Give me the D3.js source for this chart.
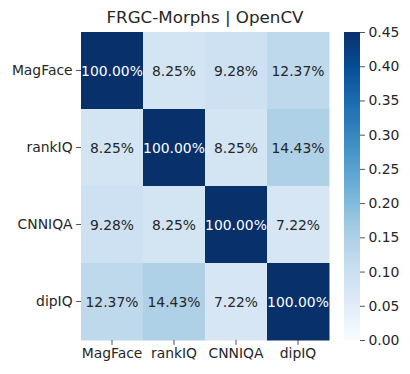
<!DOCTYPE html>
<html>
<head>
<meta charset="utf-8">
<script src="https://cdn.jsdelivr.net/npm/d3@7"></script>
<style>
  body { margin: 0; background: #fff; }
  text { font-family: "DejaVu Sans", sans-serif; fill: #262626; }
</style>
</head>
<body>
<div id="chart"></div>
<script>
// labels + matrix values
var models = ["MagFace", "rankIQ", "CNNIQA", "dipIQ"]
var values = [
  [1.0, 0.0825, 0.0928, 0.1237],
  [0.0825, 1.0, 0.0825, 0.1443],
  [0.0928, 0.0825, 1.0, 0.0722],
  [0.1237, 0.1443, 0.0722, 1.0]
]
var cbarTicks = [0, 0.05, 0.1, 0.15, 0.2, 0.25, 0.3, 0.35, 0.4, 0.45]
var titleText = "FRGC-Morphs | OpenCV"

var width = 410, height = 374
var mLeft = 81, mTop = 32, mRight = 329, mBottom = 340

var svg = d3.select("#chart").append("svg")
  .attr("width", width)
  .attr("height", height)

// matplotlib Blues, linear between the brewer stops
var blues = ["#f7fbff","#deebf7","#c6dbef","#9ecae1","#6baed6","#4292c6","#2171b5","#08519c","#08306b"]
var color = d3.scaleLinear()
  .domain(d3.range(blues.length).map(function(i) { return 0.45 * i / (blues.length - 1) }))
  .range(blues)
  .clamp(true)

var x = d3.scaleBand().domain(models).range([mLeft, mRight])
var y = d3.scaleBand().domain(models).range([mTop, mBottom])

var cells = []
values.forEach(function(row, i) {
  row.forEach(function(v, j) {
    cells.push({ r: models[i], c: models[j], v: v })
  })
})

svg.selectAll("rect.cell")
  .data(cells)
  .enter()
  .append("rect")
  .attr("class", "cell")
  .attr("x", function(d) { return x(d.c) })
  .attr("y", function(d) { return y(d.r) })
  .attr("width", x.bandwidth() + 0.5)
  .attr("height", y.bandwidth() + 0.5)
  .style("fill", function(d) { return color(d.v) })

svg.selectAll("text.annot")
  .data(cells)
  .enter()
  .append("text")
  .attr("class", "annot")
  .attr("x", function(d) { return x(d.c) + x.bandwidth() / 2 })
  .attr("y", function(d) { return y(d.r) + y.bandwidth() / 2 })
  .attr("dy", "0.36em")
  .attr("text-anchor", "middle")
  .style("font-size", "13.9px")
  .style("fill", function(d) { return d.v > 0.25 ? "#ffffff" : "#262626" })
  .text(function(d) { return (d.v * 100).toFixed(2) + "%" })

// axes
var xAxis = svg.append("g")
  .attr("transform", "translate(0," + mBottom + ")")
  .call(d3.axisBottom(x).tickSize(4.9).tickPadding(3.5))
var yAxis = svg.append("g")
  .attr("transform", "translate(" + mLeft + ",0)")
  .call(d3.axisLeft(y).tickSize(4.9).tickPadding(3.5))
;[xAxis, yAxis].forEach(function(g) {
  g.select(".domain").remove()
  g.selectAll("line").style("stroke", "#262626").style("stroke-width", 0.8)
  g.selectAll("text").style("font-size", "13.9px").style("font-family", "DejaVu Sans, sans-serif").style("fill", "#262626")
})

// colorbar
var cbX = 344, cbW = 16
var defs = svg.append("defs")
var grad = defs.append("linearGradient")
  .attr("id", "cbgrad")
  .attr("x1", "0").attr("y1", "1").attr("x2", "0").attr("y2", "0")
blues.forEach(function(c, i) {
  grad.append("stop")
    .attr("offset", (i / (blues.length - 1) * 100) + "%")
    .attr("stop-color", c)
})
svg.append("rect")
  .attr("x", cbX).attr("y", mTop)
  .attr("width", cbW).attr("height", mBottom - mTop)
  .style("fill", "url(#cbgrad)")

var cy = d3.scaleLinear().domain([0, 0.45]).range([mBottom, mTop])
var cAxis = svg.append("g")
  .attr("transform", "translate(" + (cbX + cbW) + ",0)")
  .call(d3.axisRight(cy).tickValues(cbarTicks).tickFormat(d3.format(".2f")).tickSize(4.9).tickPadding(3.5))
cAxis.select(".domain").remove()
cAxis.selectAll("line").style("stroke", "#262626").style("stroke-width", 0.8)
cAxis.selectAll("text").style("font-size", "13.9px").style("font-family", "DejaVu Sans, sans-serif").style("fill", "#262626")

// title
svg.append("text")
  .attr("x", (mLeft + mRight) / 2)
  .attr("y", 23)
  .attr("text-anchor", "middle")
  .style("font-size", "16.7px")
  .text(titleText)
</script>
</body>
</html>
